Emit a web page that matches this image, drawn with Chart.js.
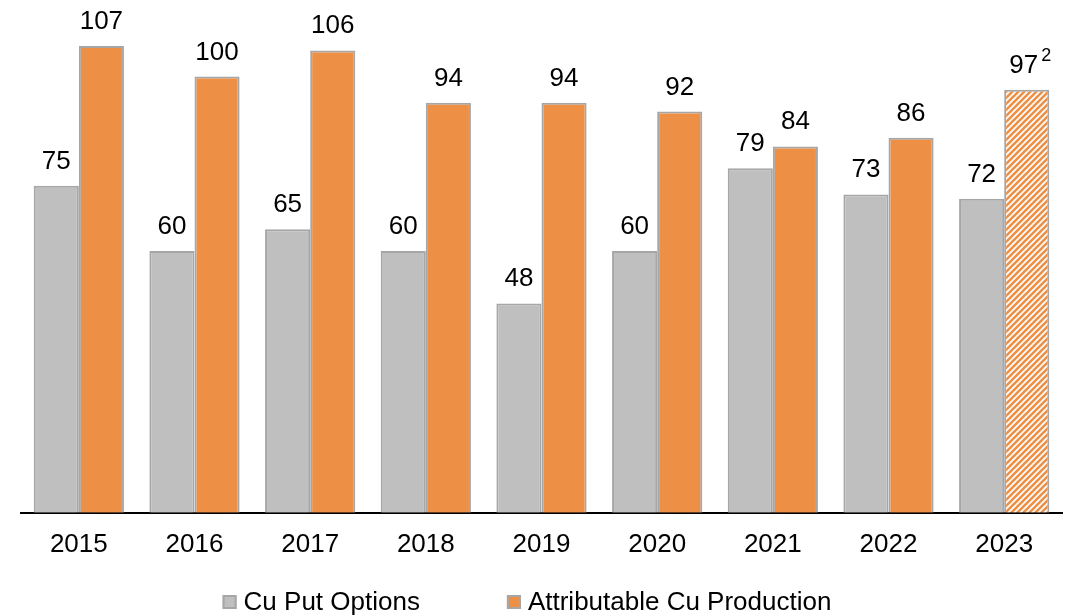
<!DOCTYPE html>
<html>
<head>
<meta charset="utf-8">
<script src="https://cdn.jsdelivr.net/npm/chart.js@4.4.1/dist/chart.umd.min.js"></script>
<style>
html,body{margin:0;padding:0;background:#fff;}
#wrap{width:1076px;height:615px;position:relative;}
</style>
</head>
<body>
<div id="wrap"><canvas id="c" width="1076" height="615"></canvas></div>
<script>
const categories = ['2015','2016','2017','2018','2019','2020','2021','2022','2023'];
const putOptions = [75, 60, 65, 60, 48, 60, 79, 73, 72];
const production = [107, 100, 106, 94, 94, 92, 84, 86, 97];
const seriesNames = ['Cu Put Options', 'Attributable Cu Production'];
const footnotes = ['', '', '', '', '', '', '', '', '2'];

const GRAY = '#BFBFBF';
const ORANGE = '#ED9045';
const BORDER = '#A6A6A6';
const FONT = '"Liberation Sans", Arial, sans-serif';

function makeHatch() {
  const s = 6;
  const c = document.createElement('canvas');
  c.width = s; c.height = s;
  const g = c.getContext('2d');
  g.fillStyle = '#ffffff';
  g.fillRect(0, 0, s, s);
  g.strokeStyle = ORANGE;
  g.lineWidth = 2.6;
  g.beginPath();
  g.moveTo(-1, s + 1); g.lineTo(s + 1, -1);
  g.moveTo(-1, 1); g.lineTo(1, -1);
  g.moveTo(s - 1, s + 1); g.lineTo(s + 1, s - 1);
  g.stroke();
  return g.createPattern(c, 'repeat');
}
const hatch = makeHatch();
const prodColors = production.map((v, i) => i === production.length - 1 ? hatch : ORANGE);

const labelPlugin = {
  id: 'barLabels',
  afterDatasetsDraw(chart) {
    const ctx = chart.ctx;
    ctx.save();
    ctx.fillStyle = '#000';
    ctx.textBaseline = 'alphabetic';
    chart.data.datasets.forEach((ds, di) => {
      const meta = chart.getDatasetMeta(di);
      meta.data.forEach((el, i) => {
        ctx.font = '26px ' + FONT;
        const txt = String(ds.data[i]);
        const y = el.y - 17;
        const note = di === 1 ? footnotes[i] : '';
        if (note) {
          const w = ctx.measureText(txt).width;
          const cx = el.x - 3;
          ctx.textAlign = 'center';
          ctx.fillText(txt, cx, y);
          ctx.font = '18px ' + FONT;
          ctx.textAlign = 'left';
          ctx.fillText(note, cx + w / 2 + 3, y - 12);
        } else {
          ctx.textAlign = 'center';
          ctx.fillText(txt, el.x, y);
        }
      });
    });
    ctx.restore();
  }
};

const legendPlugin = {
  id: 'customLegend',
  afterDraw(chart) {
    const ctx = chart.ctx;
    ctx.save();
    ctx.font = '26px ' + FONT;
    ctx.textBaseline = 'middle';
    ctx.textAlign = 'left';
    const box = 14, gapBox = 7, gapItem = 87;
    const fills = [GRAY, ORANGE];
    const widths = seriesNames.map(t => ctx.measureText(t).width);
    const total = widths.reduce((a, w) => a + box + gapBox + w, 0) + gapItem * (seriesNames.length - 1);
    let x = chart.width / 2 - 11 - total / 2;
    const cy = 602;
    seriesNames.forEach((t, i) => {
      ctx.fillStyle = fills[i];
      ctx.fillRect(x, cy - box / 2, box, box);
      ctx.strokeStyle = BORDER;
      ctx.lineWidth = 2;
      ctx.strokeRect(x + 1, cy - box / 2 + 1, box - 2, box - 2);
      ctx.fillStyle = '#000';
      ctx.fillText(t, x + box + gapBox, cy + 1);
      x += box + gapBox + widths[i] + gapItem;
    });
    ctx.restore();
  }
};

new Chart(document.getElementById('c'), {
  type: 'bar',
  data: {
    labels: categories,
    datasets: [
      { label: seriesNames[0], data: putOptions, backgroundColor: GRAY, borderColor: BORDER, borderWidth: 2, borderSkipped: 'bottom' },
      { label: seriesNames[1], data: production, backgroundColor: prodColors, borderColor: BORDER, borderWidth: 2, borderSkipped: 'bottom' }
    ]
  },
  options: {
    responsive: false,
    animation: false,
    devicePixelRatio: 1,
    layout: { padding: { left: 21, right: 14, top: 33, bottom: 39 } },
    datasets: { bar: { categoryPercentage: 0.78, barPercentage: 1.0 } },
    scales: {
      x: {
        grid: { display: false, drawTicks: false },
        border: { display: true, color: '#000', width: 2 },
        ticks: { color: '#000', font: { size: 26, family: FONT }, padding: 16 }
      },
      y: {
        display: false,
        min: 0, max: 110,
        grid: { display: false }
      }
    },
    plugins: {
      tooltip: { enabled: false },
      legend: { display: false }
    }
  },
  plugins: [labelPlugin, legendPlugin]
});
</script>
</body>
</html>
